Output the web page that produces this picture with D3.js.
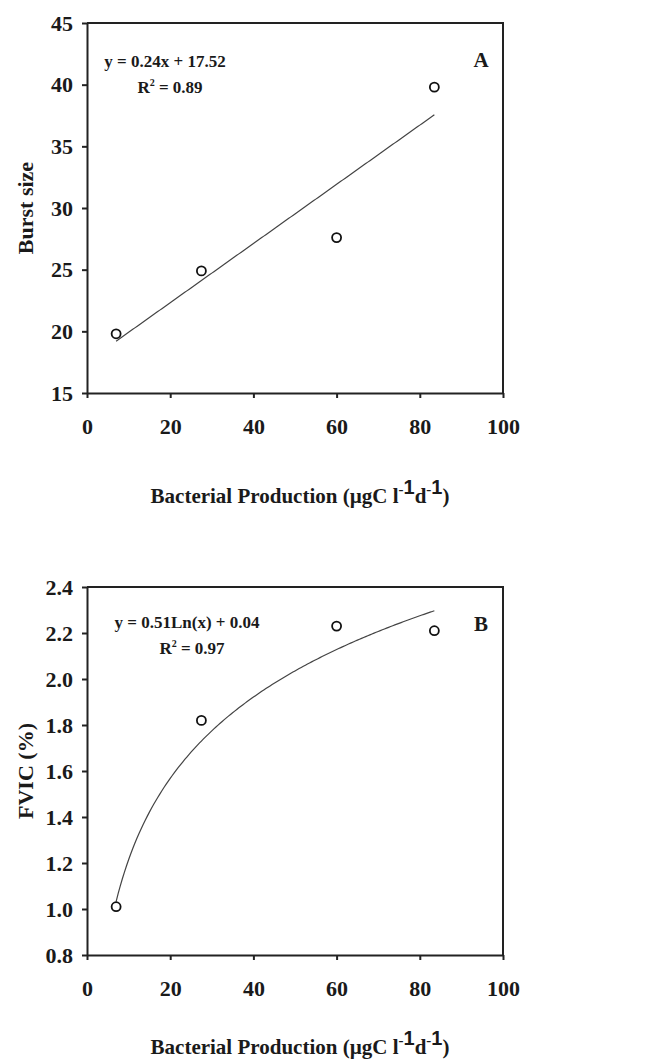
<!DOCTYPE html>
<html>
<head>
<meta charset="utf-8">
<script src="https://cdn.jsdelivr.net/npm/d3@7"></script>
<style>
  body { margin: 0; background: white; }
  text { font-family: "Liberation Serif", "Times New Roman", serif; font-weight: bold; fill: #1a1a1a; }
  .tick text { font-size: 22px; }
  .tick line { stroke: #222; stroke-width: 2; }
  .domain { stroke: #222; stroke-width: 2; }
</style>
</head>
<body>
<svg width="650" height="1064"></svg>
<script>
// shared x values (bacterial production)
var production = [7, 27.5, 60, 83.5];
var xTicks = [0, 20, 40, 60, 80, 100];

// panel A: burst size
var burstSize = [19.8, 24.9, 27.6, 39.8];
var burstTicks = [15, 20, 25, 30, 35, 40, 45];
var burstFit = [0.24, 17.52];   // slope, intercept

// panel B: FVIC
var fvic = [1.01, 1.82, 2.23, 2.21];
var fvicTicks = [0.8, 1.0, 1.2, 1.4, 1.6, 1.8, 2.0, 2.2, 2.4];
var fvicFit = [0.51, 0.04];     // ln coefficient, intercept

var svg = d3.select("svg");
var left = 87, right = 503;

function panel(opt) {
  var x = d3.scaleLinear().domain([0, 100]).range([left, right]);
  var y = d3.scaleLinear().domain(opt.ydomain).range([opt.bottom, opt.top]);
  var g = svg.append("g");

  // frame top / right
  g.append("path")
    .attr("d", "M" + left + "," + opt.top + "H" + right + "V" + opt.bottom)
    .attr("fill", "none").attr("stroke", "#222").attr("stroke-width", 2);

  g.append("g")
    .attr("transform", "translate(" + left + ",0)")
    .call(d3.axisLeft(y).tickValues(opt.yticks).tickFormat(opt.yfmt).tickSize(5).tickPadding(9).tickSizeOuter(0));
  g.append("g")
    .attr("transform", "translate(0," + opt.bottom + ")")
    .call(d3.axisBottom(x).tickValues(xTicks).tickSize(5).tickPadding(20).tickSizeOuter(0));

  // trend line
  var xs = d3.range(production[0], production[production.length - 1] + 0.01, 0.5);
  g.append("path")
    .datum(xs)
    .attr("fill", "none")
    .attr("stroke", "#444")
    .attr("stroke-width", 1.2)
    .attr("d", d3.line().x(function(d) { return x(d); }).y(function(d) { return y(opt.fit(d)); }));

  g.selectAll("circle")
    .data(opt.values)
    .enter()
    .append("circle")
    .attr("cx", function(d, i) { return x(production[i]); })
    .attr("cy", function(d) { return y(d); })
    .attr("r", 4.5)
    .attr("fill", "white")
    .attr("stroke", "#111")
    .attr("stroke-width", 1.8);

  // equation
  g.append("text").attr("x", opt.eqx).attr("y", opt.eqy).attr("text-anchor", "middle")
    .style("font-size", "17px").text(opt.eq);
  var r2 = g.append("text").attr("x", opt.eqx + 5).attr("y", opt.eqy + 26).attr("text-anchor", "middle")
    .style("font-size", "17px");
  r2.append("tspan").text("R");
  r2.append("tspan").attr("dy", -7).style("font-size", "10px").text("2");
  r2.append("tspan").attr("dy", 7).text(" = " + opt.r2);

  g.append("text").attr("x", 481).attr("y", opt.top + 44).attr("text-anchor", "middle")
    .style("font-size", "21px").text(opt.letter);

  // y title
  g.append("text")
    .attr("transform", "translate(33," + ((opt.top + opt.bottom) / 2) + ")rotate(-90)")
    .attr("text-anchor", "middle")
    .style("font-size", "22px")
    .text(opt.ytitle);

  // x title
  var t = g.append("text").attr("x", 300).attr("y", opt.bottom + opt.tdy).attr("text-anchor", "middle")
    .style("font-size", "21px");
  t.append("tspan").text("Bacterial Production (µgC l");
  t.append("tspan").attr("dy", -9).style("font-size", "15px").text("-");
  t.append("tspan").style("font-size", "20px").style("font-family", "Liberation Sans, Arial, sans-serif").text("1");
  t.append("tspan").attr("dy", 9).text("d");
  t.append("tspan").attr("dy", -9).style("font-size", "15px").text("-");
  t.append("tspan").style("font-size", "20px").style("font-family", "Liberation Sans, Arial, sans-serif").text("1");
  t.append("tspan").attr("dy", 9).text(")");
}

panel({
  top: 23, bottom: 393, ydomain: [15, 45], yticks: burstTicks, yfmt: d3.format("d"),
  values: burstSize, fit: function(v) { return burstFit[0] * v + burstFit[1]; },
  eq: "y = 0.24x + 17.52", r2: "0.89", eqx: 165, eqy: 67, letter: "A", ytitle: "Burst size",
  tdy: 110
});

panel({
  top: 587, bottom: 955, ydomain: [0.8, 2.4], yticks: fvicTicks, yfmt: d3.format(".1f"),
  values: fvic, fit: function(v) { return fvicFit[0] * Math.log(v) + fvicFit[1]; },
  eq: "y = 0.51Ln(x) + 0.04", r2: "0.97", eqx: 187, eqy: 628, letter: "B", ytitle: "FVIC (%)",
  tdy: 99
});
</script>
</body>
</html>
